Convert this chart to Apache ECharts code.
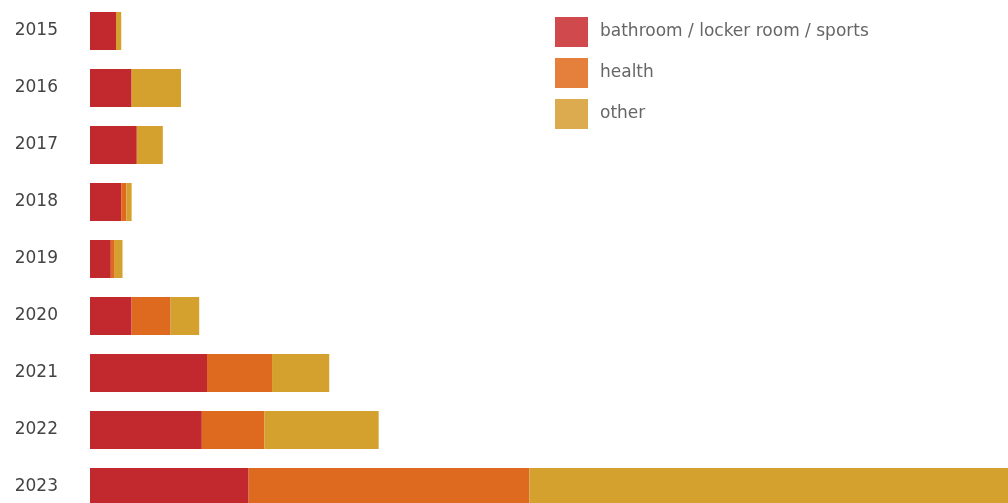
<!DOCTYPE html>
<html lang="en">
<head>
    <meta charset="UTF-8">
    <title>Echarts</title>
    <script src="https://cdn.jsdelivr.net/npm/echarts@6/dist/echarts.min.js"></script>
    <style>
        html, body { margin: 0; padding: 0; background: #fff; overflow: hidden; }
    </style>
</head>
<body>
    <!-- taller than the window: the last bar is cut at the bottom edge -->
    <div id="main" style="width: 1008px;height:520px;"></div>
    <script type="text/javascript">
        // data
        var years = ['2015', '2016', '2017', '2018', '2019', '2020', '2021', '2022', '2023'];
        var bathroom = [10, 16, 18, 12, 8, 16, 45, 43, 61];
        var health = [0, 0, 0, 2, 1.5, 15, 25, 24, 108];
        var other = [2, 19, 10, 2, 3, 11, 22, 44, 200];
        var seriesNames = ['bathroom / locker room / sports', 'health', 'other'];

        var barColors = ['#c1292e', '#dd6a1f', '#d4a02e'];
        var legendColors = ['#d04a4d', '#e4803c', '#dcab4f'];

        var myChart = echarts.init(document.getElementById('main'));

        var allData = [bathroom, health, other];
        var series = [];
        for (var i = 0; i < seriesNames.length; i++) {
            series.push({
                name: seriesNames[i],
                type: 'bar',
                stack: 'total',
                barWidth: 38,
                clip: true,
                itemStyle: { color: barColors[i] },
                data: allData[i]
            });
        }

        var option = {
            animation: false,
            legend: {
                orient: 'vertical',
                left: 555,
                top: 17,
                padding: 0,
                itemWidth: 33,
                itemHeight: 30,
                itemGap: 11,
                icon: 'rect',
                textStyle: {
                    color: '#666',
                    fontFamily: 'DejaVu Sans',
                    fontSize: 17,
                    padding: [0, 0, 0, 7]
                },
                data: seriesNames.map(function (n, i) {
                    return { name: n, itemStyle: { color: legendColors[i] } };
                })
            },
            grid: {
                left: 90,
                top: 2.5,
                width: 918,
                height: 513
            },
            xAxis: {
                type: 'value',
                min: 0,
                max: 353,
                show: false
            },
            yAxis: {
                type: 'category',
                inverse: true,
                data: years,
                axisLine: { show: false },
                axisTick: { show: false },
                axisLabel: {
                    margin: 32,
                    color: '#444',
                    fontFamily: 'DejaVu Sans',
                    fontSize: 17
                }
            },
            series: series
        };

        myChart.setOption(option);
    </script>
</body>
</html>
